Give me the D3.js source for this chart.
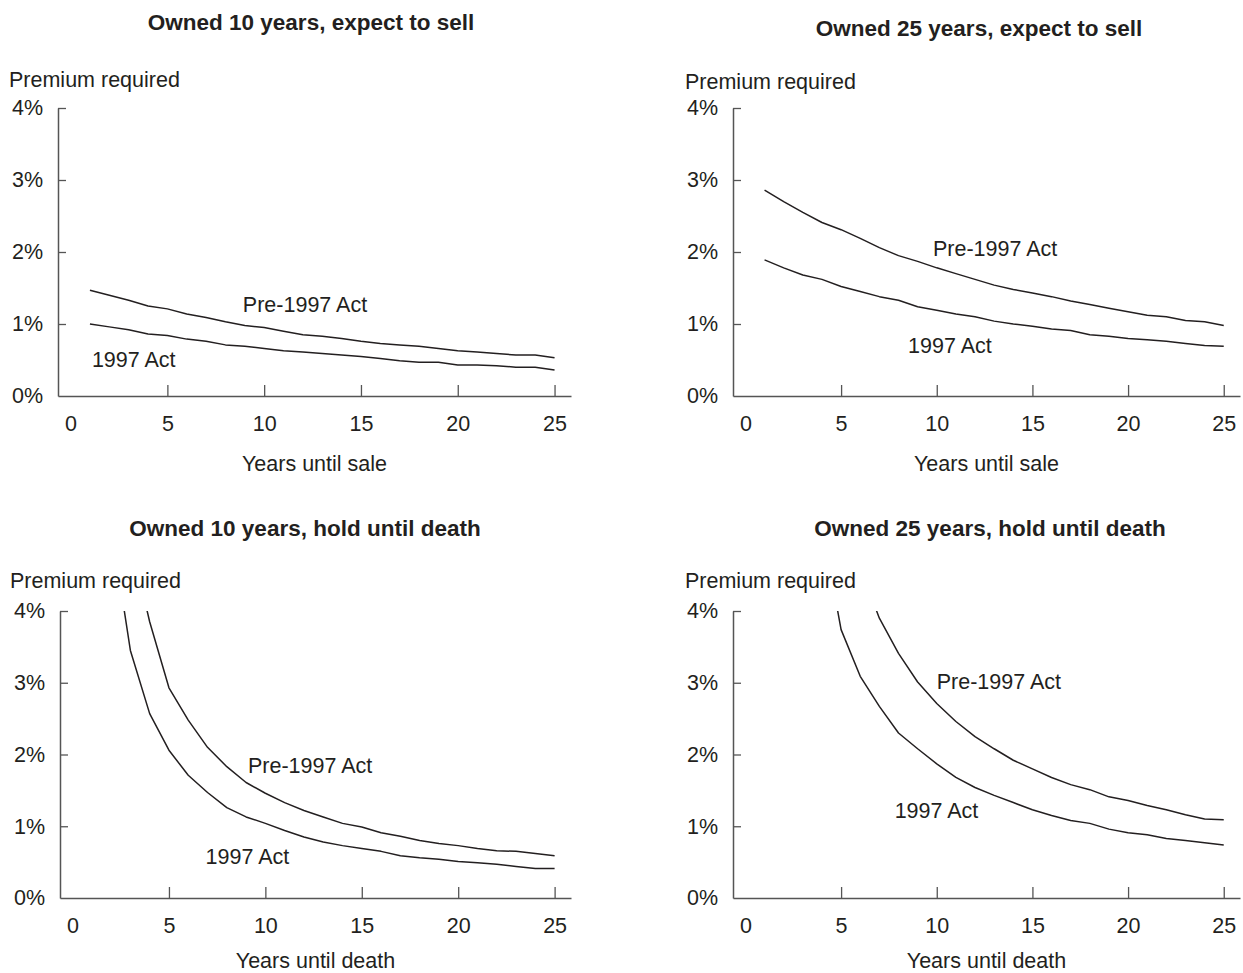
<!DOCTYPE html>
<html>
<head>
<meta charset="utf-8">
<script src="https://cdn.jsdelivr.net/npm/d3@7"></script>
<style>
  html, body { margin: 0; padding: 0; background: #fff; }
  svg { display: block; font-family: "Liberation Sans", Arial, Helvetica, sans-serif; }
</style>
</head>
<body>
<svg id="chart" width="1243" height="973"></svg>
<script>
// ---------- DATA ----------
const years = d3.range(1, 26); // 1..25
const yTicks = [0, 1, 2, 3, 4];
const xTicks = [0, 5, 10, 15, 20, 25];
const panelTitles = [
  "Owned 10 years, expect to sell",
  "Owned 25 years, expect to sell",
  "Owned 10 years, hold until death",
  "Owned 25 years, hold until death"
];
const xAxisTitles = ["Years until sale", "Years until sale", "Years until death", "Years until death"];
const yAxisTitle = "Premium required";
const seriesNames = ["Pre-1997 Act", "1997 Act"];

// Owned 10 years, expect to sell (years 1..25)
const sell10Pre = [1.47,1.40,1.33,1.25,1.21,1.14,1.09,1.03,0.98,0.95,0.90,0.85,0.83,0.80,0.76,0.73,0.71,0.69,0.66,0.63,0.61,0.59,0.57,0.57,0.53];
const sell10New = [1.00,0.96,0.92,0.86,0.84,0.79,0.76,0.71,0.69,0.66,0.63,0.61,0.59,0.57,0.55,0.52,0.49,0.47,0.47,0.43,0.43,0.42,0.40,0.40,0.36];
// Owned 25 years, expect to sell
const sell25Pre = [2.86,2.70,2.55,2.41,2.31,2.19,2.06,1.95,1.87,1.78,1.70,1.62,1.54,1.48,1.43,1.38,1.32,1.27,1.22,1.17,1.12,1.10,1.05,1.03,0.98];
const sell25New = [1.89,1.78,1.68,1.62,1.52,1.45,1.38,1.33,1.24,1.19,1.14,1.10,1.04,1.00,0.97,0.93,0.91,0.85,0.83,0.80,0.78,0.76,0.73,0.70,0.69];
// Owned 10 years, hold until death (early years run above the 4% frame)
const death10Pre = [null,7.60,5.00,3.85,2.93,2.48,2.10,1.83,1.61,1.46,1.33,1.22,1.13,1.04,0.99,0.91,0.86,0.80,0.76,0.73,0.69,0.66,0.65,0.62,0.59];
const death10New = [null,5.20,3.45,2.57,2.06,1.71,1.47,1.26,1.13,1.04,0.94,0.85,0.78,0.73,0.69,0.65,0.59,0.56,0.54,0.51,0.49,0.47,0.44,0.41,0.41];
// Owned 25 years, hold until death
const death25Pre = [null,null,null,null,5.60,4.60,3.90,3.41,3.01,2.71,2.46,2.25,2.08,1.92,1.80,1.68,1.58,1.51,1.41,1.36,1.29,1.23,1.16,1.10,1.09];
const death25New = [null,null,null,5.20,3.74,3.09,2.67,2.30,2.08,1.87,1.68,1.54,1.43,1.33,1.23,1.15,1.08,1.04,0.96,0.91,0.88,0.83,0.80,0.77,0.74];

// label anchor positions (year, percent) for each panel: [pre, new]
const labelPos = [
  [[8.9, 1.16], [1.1, 0.40]],
  [[9.8, 1.94], [8.5, 0.60]],
  [[9.1, 1.74], [6.9, 0.47]],
  [[10.0, 2.91], [7.8, 1.11]]
];

const panelSeries = [
  [sell10Pre, sell10New],
  [sell25Pre, sell25New],
  [death10Pre, death10New],
  [death25Pre, death25New]
];

// ---------- LAYOUT ----------
const panels = [
  { xr: [58, 571],  yr: [396, 108], titleX: 311, titleY: 30,  labX: 9,   labY: 87,  xtY: 471 },
  { xr: [733, 1240], yr: [396, 108], titleX: 979, titleY: 36,  labX: 685, labY: 89,  xtY: 471 },
  { xr: [60, 571],  yr: [898, 611], titleX: 305, titleY: 536, labX: 10,  labY: 588, xtY: 968 },
  { xr: [733, 1240], yr: [898, 611], titleX: 990, titleY: 536, labX: 685, labY: 588, xtY: 968 }
];

const svg = d3.select("#chart");
const textColor = "#231f20";
const axisColor = "#555";
const fs = 21.5;

panels.forEach((p, i) => {
  const x = d3.scaleLinear().domain([-0.65, 25.85]).range(p.xr);
  const y = d3.scaleLinear().domain([0, 4]).range(p.yr);
  const g = svg.append("g");

  // title
  g.append("text")
    .attr("x", p.titleX).attr("y", p.titleY)
    .attr("text-anchor", "middle")
    .attr("font-weight", "bold").attr("font-size", 22.5)
    .attr("fill", textColor)
    .text(panelTitles[i]);

  // y axis title
  g.append("text")
    .attr("x", p.labX).attr("y", p.labY)
    .attr("font-size", fs).attr("fill", textColor)
    .text(yAxisTitle);

  // clip
  const clipId = "clip" + i;
  svg.append("clipPath").attr("id", clipId)
    .append("rect")
    .attr("x", p.xr[0]).attr("y", p.yr[1])
    .attr("width", p.xr[1] - p.xr[0]).attr("height", p.yr[0] - p.yr[1]);

  // y axis
  const yAxis = d3.axisLeft(y).tickValues(yTicks)
    .tickSizeInner(-8).tickSizeOuter(0).tickPadding(15)
    .tickFormat(d => d + "%");
  const ya = g.append("g").attr("transform", `translate(${p.xr[0]},0)`).call(yAxis);
  ya.attr("font-family", null);
  ya.selectAll("text").attr("font-size", fs).attr("fill", textColor);
  ya.selectAll("line").attr("stroke", axisColor).attr("stroke-width", 1.3);
  ya.select(".domain").attr("stroke", axisColor).attr("stroke-width", 1.5);
  ya.selectAll(".tick").filter(d => d === 0).select("line").remove();

  // x axis
  const xAxis = d3.axisBottom(x).tickValues(xTicks)
    .tickSizeInner(-11).tickSizeOuter(0).tickPadding(20);
  const xa = g.append("g").attr("transform", `translate(0,${p.yr[0]})`).call(xAxis);
  xa.attr("font-family", null);
  xa.selectAll("text").attr("font-size", fs).attr("fill", textColor);
  xa.selectAll("line").attr("stroke", axisColor).attr("stroke-width", 1.3);
  xa.select(".domain").attr("stroke", axisColor).attr("stroke-width", 1.5);
  xa.selectAll(".tick").filter(d => d === 0).select("line").remove();

  // x axis title
  g.append("text")
    .attr("x", x(12.6)).attr("y", p.xtY)
    .attr("text-anchor", "middle")
    .attr("font-size", fs).attr("fill", textColor)
    .text(xAxisTitles[i]);

  // lines
  const line = d3.line()
    .defined(d => d.v !== null)
    .x(d => x(d.t)).y(d => y(d.v));
  panelSeries[i].forEach((vals, k) => {
    const data = years.map((t, j) => ({ t: t, v: vals[j] }));
    g.append("path")
      .datum(data)
      .attr("clip-path", `url(#${clipId})`)
      .attr("fill", "none")
      .attr("stroke", "#231f20")
      .attr("stroke-width", 1.5)
      .attr("stroke-linejoin", "round")
      .attr("d", line);
    const lp = labelPos[i][k];
    g.append("text")
      .attr("x", x(lp[0])).attr("y", y(lp[1]))
      .attr("font-size", fs).attr("fill", textColor)
      .text(seriesNames[k]);
  });
});
</script>
</body>
</html>
